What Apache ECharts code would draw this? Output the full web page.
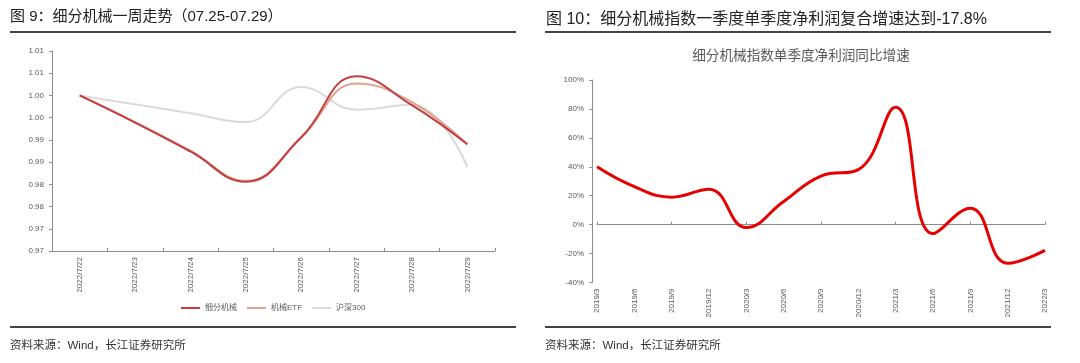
<!DOCTYPE html>
<html>
<head>
<meta charset="utf-8">
<script src="https://cdn.jsdelivr.net/npm/echarts@6/dist/echarts.min.js"></script>
<style>
html,body{margin:0;padding:0;background:#fff;}
#c{width:1080px;height:363px;}
</style>
</head>
<body>
<div id="c"></div>
<script>
// ---- Left chart data ----
const leftCategories = ['2022/7/22','2022/7/23','2022/7/24','2022/7/25','2022/7/26','2022/7/27','2022/7/28','2022/7/29'];
const seriesXiFen = [1.0000, 0.9939, 0.9874, 0.9806, 0.9906, 1.0043, 0.9978, 0.9890];
const seriesETF   = [1.0000, 0.9940, 0.9876, 0.9808, 0.9905, 1.0027, 0.9985, 0.9890];
const seriesHS300 = [1.0000, 0.9980, 0.9960, 0.9940, 1.0019, 0.9968, 0.9979, 0.9839];
const leftYTickLabels = ['0.97','0.97','0.98','0.98','0.99','0.99','1.00','1.00','1.01','1.01'];
const leftSeriesNames = ['细分机械','机械ETF','沪深300'];

// ---- Right chart data ----
const rightCategories = ['2019/3','2019/6','2019/9','2019/12','2020/3','2020/6','2020/9','2020/12','2021/3','2021/6','2021/9','2021/12','2022/3'];
const rightValues = [40.0, 26.3, 19.0, 24.5, -2.0, 16.0, 33.6, 38.0, 81.1, -6.2, 11.4, -26.7, -17.8];
const rightYTickLabels = ['-40%','-20%','0%','20%','40%','60%','80%','100%'];

// ---- Texts ----
const leftTitle = '图 9：细分机械一周走势（07.25-07.29）';
const rightTitle = '图 10：细分机械指数一季度单季度净利润复合增速达到-17.8%';
const rightInnerTitle = '细分机械指数单季度净利润同比增速';
const sourceText = '资料来源：Wind，长江证券研究所';

const FONT = '"Liberation Sans", Arial, "Noto Sans CJK SC", sans-serif';
const AXIS_COLOR = '#8c8c8c';
const LABEL_COLOR = '#595959';

const chart = echarts.init(document.getElementById('c'), null, {renderer: 'canvas'});

const L_MIN = 0.965, L_INT = 0.005;
const R_MIN = -40, R_INT = 20;

const option = {
  animation: false,
  backgroundColor: '#fff',
  textStyle: {fontFamily: FONT},
  grid: [
    {left: 52, top: 51, width: 443, height: 200},
    {left: 597, top: 80, width: 448, height: 202.5}
  ],
  legend: {
    data: leftSeriesNames,
    left: 176, top: 299,
    icon: 'rect', itemWidth: 19, itemHeight: 2, itemGap: 10,
    selectedMode: false,
    textStyle: {fontSize: 8, color: LABEL_COLOR, fontFamily: FONT}
  },
  xAxis: [
    {
      gridIndex: 0, type: 'category', data: leftCategories, boundaryGap: true,
      axisLine: {show: true, onZero: false, lineStyle: {color: AXIS_COLOR, width: 1}},
      axisTick: {show: true, inside: true, length: 3, lineStyle: {color: AXIS_COLOR}},
      axisLabel: {rotate: 90, fontSize: 8, color: LABEL_COLOR, margin: 6, fontFamily: FONT, interval: 0},
      splitLine: {show: false}
    },
    {
      gridIndex: 1, type: 'category', data: rightCategories, boundaryGap: false,
      axisLine: {show: true, onZero: true, lineStyle: {color: AXIS_COLOR, width: 1}},
      axisTick: {show: true, inside: true, length: 3, lineStyle: {color: AXIS_COLOR}},
      axisLabel: {show: false},
      splitLine: {show: false}
    },
    {
      gridIndex: 1, type: 'category', data: rightCategories, boundaryGap: false, position: 'bottom',
      axisLine: {show: false, onZero: false},
      axisTick: {show: false},
      axisLabel: {rotate: 90, fontSize: 8, color: LABEL_COLOR, margin: 6, fontFamily: FONT, interval: 0},
      splitLine: {show: false}
    }
  ],
  yAxis: [
    {
      gridIndex: 0, type: 'value', min: L_MIN, max: 1.010, interval: L_INT,
      axisLine: {show: true, lineStyle: {color: AXIS_COLOR, width: 1}},
      axisTick: {show: true, length: 3, lineStyle: {color: AXIS_COLOR}},
      axisLabel: {fontSize: 8, color: LABEL_COLOR, margin: 8, fontFamily: FONT,
        formatter: v => leftYTickLabels[Math.round((v - L_MIN) / L_INT)] || ''},
      splitLine: {show: false}
    },
    {
      gridIndex: 1, type: 'value', min: R_MIN, max: 100, interval: R_INT, offset: 5,
      axisLine: {show: true, lineStyle: {color: AXIS_COLOR, width: 1}},
      axisTick: {show: true, length: 3, lineStyle: {color: AXIS_COLOR}},
      axisLabel: {fontSize: 8, color: LABEL_COLOR, margin: 8, fontFamily: FONT,
        formatter: v => rightYTickLabels[Math.round((v - R_MIN) / R_INT)] || ''},
      splitLine: {show: false}
    }
  ],
  series: [
    {name: leftSeriesNames[2], type: 'line', xAxisIndex: 0, yAxisIndex: 0, data: seriesHS300,
      smooth: 0.45, showSymbol: false, lineStyle: {color: '#dadada', width: 2}, itemStyle: {color: '#dadada'}, z: 2},
    {name: leftSeriesNames[1], type: 'line', xAxisIndex: 0, yAxisIndex: 0, data: seriesETF,
      smooth: 0.45, showSymbol: false, lineStyle: {color: '#dca58f', width: 2}, itemStyle: {color: '#dca58f'}, z: 3},
    {name: leftSeriesNames[0], type: 'line', xAxisIndex: 0, yAxisIndex: 0, data: seriesXiFen,
      smooth: 0.45, showSymbol: false, lineStyle: {color: '#c43c3f', width: 2}, itemStyle: {color: '#c43c3f'}, z: 4},
    {name: 'rightSeries', type: 'line', xAxisIndex: 1, yAxisIndex: 1, data: rightValues,
      smooth: 0.45, showSymbol: false, lineStyle: {color: '#e60000', width: 3}, itemStyle: {color: '#e60000'}, z: 4}
  ],
  graphic: [
    {type: 'text', left: 10, top: 9, style: {text: leftTitle, font: '15px ' + FONT, fill: '#222'}},
    {type: 'text', left: 546, top: 12, style: {text: rightTitle, font: '16px ' + FONT, fill: '#222'}},
    {type: 'text', x: 801, y: 56, style: {text: rightInnerTitle, font: '13.6px ' + FONT, fill: LABEL_COLOR, align: 'center', verticalAlign: 'middle'}},
    {type: 'line', shape: {x1: 10, y1: 32, x2: 516, y2: 32}, style: {stroke: '#444', lineWidth: 2}},
    {type: 'line', shape: {x1: 545, y1: 32, x2: 1051, y2: 32}, style: {stroke: '#444', lineWidth: 2}},
    {type: 'line', shape: {x1: 10, y1: 327, x2: 516, y2: 327}, style: {stroke: '#444', lineWidth: 2}},
    {type: 'line', shape: {x1: 545, y1: 327, x2: 1051, y2: 327}, style: {stroke: '#444', lineWidth: 2}},
    {type: 'text', x: 10, y: 346, style: {text: sourceText, font: '11.5px ' + FONT, fill: '#333', verticalAlign: 'middle'}},
    {type: 'text', x: 545, y: 346, style: {text: sourceText, font: '11.5px ' + FONT, fill: '#333', verticalAlign: 'middle'}}
  ]
};
chart.setOption(option);
</script>
</body>
</html>
